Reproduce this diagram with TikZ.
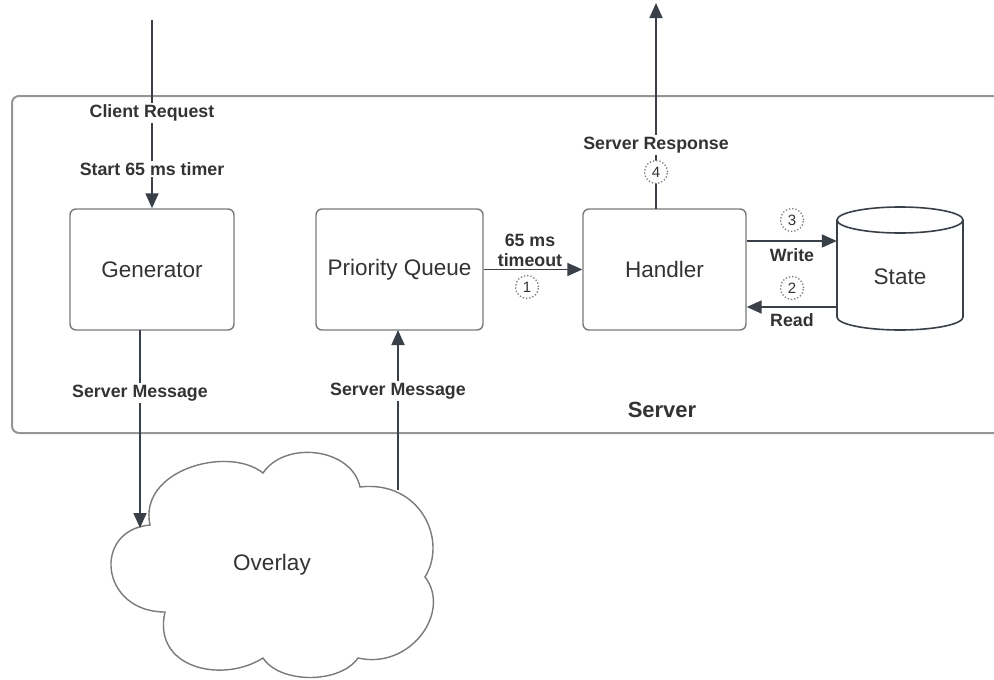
\documentclass[tikz,border=0pt]{standalone}
\usepackage{fontspec}
\setmainfont{Liberation Sans}
\usetikzlibrary{arrows.meta,calc}
\definecolor{txt}{HTML}{333333}
\definecolor{ln}{HTML}{3A4048}
\definecolor{bx}{HTML}{7A7A7A}
\tikzset{
  procbox/.style={draw=bx,line width=1.4pt,rounded corners=6pt,fill=white,text=txt,font=\fontsize{22.5}{26}\selectfont,inner sep=0pt},
  arr/.style={draw=ln,line width=1.8pt,-{Triangle[length=15pt,width=13pt]}},
  lbl/.style={fill=white,text=txt,font=\bfseries\fontsize{17.8}{20}\selectfont,inner sep=1.5pt,align=center},
  numc/.style={circle,draw=bx,dotted,line width=1.3pt,minimum size=23pt,inner sep=0pt,fill=white,text=txt,font=\fontsize{15}{17}\selectfont}
}
\begin{document}
\begin{tikzpicture}[x=1pt,y=-1pt]
\useasboundingbox (0,0) rectangle (994,680);
\clip (0,0) rectangle (994,680);
% server box
\draw[draw=bx!80,line width=2pt,rounded corners=7pt] (12,96) rectangle (1010,433);
\node[text=txt,font=\bfseries\fontsize{22}{24}\selectfont] (serverlbl) at (662,410) {Server};
% boxes
\node[procbox,minimum width=164pt,minimum height=121pt] (gen) at (152,269.5) {Generator};
\node[procbox,minimum width=167pt,minimum height=121pt] (pq) at (399.5,269.5) {Priority Queue};
\node[procbox,minimum width=163pt,minimum height=121pt] (hand) at (664.5,269.5) {Handler};
% state cylinder
\draw[draw=ln,line width=1.6pt,fill=white] (837,220) -- (837,317) arc[start angle=180,end angle=360,x radius=63,y radius=-13] -- (963,220);
\draw[draw=ln,line width=1.6pt,fill=white] (900,220) ellipse[x radius=63,y radius=13];
\node[minimum width=126pt,minimum height=110pt,inner sep=0pt,text=txt,font=\fontsize{22.5}{26}\selectfont] (state) at (900,277) {State};
% cloud
\draw[draw=bx,line width=1.4pt,fill=white]
 (150,525) .. controls (138,470) and (228,445) .. (263,473)
 .. controls (285,440) and (352,448) .. (360,487)
 .. controls (420,480) and (448,540) .. (425,577)
 .. controls (452,612) and (410,670) .. (358,658)
 .. controls (340,684) and (280,684) .. (263,658)
 .. controls (222,684) and (152,668) .. (165,612)
 .. controls (100,612) and (92,530) .. (150,525) -- cycle;
\node[text=txt,font=\fontsize{22.5}{26}\selectfont] (overlay) at (272,565) {Overlay};
% coordinates
\coordinate (ctop) at (152,20);
\coordinate (rtop) at (656,3);
\coordinate (hup) at (656,209);
\coordinate (gdown) at (140,330);
\coordinate (cin) at (140,528);
\coordinate (cout) at (398,490);
\coordinate (pqin) at (398,330);
\coordinate (wy) at (0,241);
\coordinate (ry) at (0,307);
% client request
\draw[arr] (ctop) -- (gen.north);
\node[lbl] (creq) at (152,113) {Client Request};
\node[lbl] (ctimer) at (152,169) {Start 65 ms timer};
% gen -> overlay
\draw[arr] (gdown) -- (cin);
\node[lbl] (sm1) at (140,393) {Server Message};
% overlay -> pq
\draw[arr] (cout) -- (pqin);
\node[lbl] (sm2) at (398,391) {Server Message};
% pq -> handler
\draw[arr] (pq.east) -- (hand.west);
\node[text=txt,font=\bfseries\fontsize{17.8}{20}\selectfont,align=center,inner sep=0pt] (tout) at (530,250) {65 ms\\timeout};
\node[numc] (n1) at (527,287) {1};
% handler -> response
\draw[arr] (hup) -- (rtop);
\node[lbl] (sresp) at (656,145) {Server Response};
\node[numc] (n4) at (656,172) {4};
% write / read
\draw[arr] (hand.east |- wy) -- (state.west |- wy);
\node[text=txt,font=\bfseries\fontsize{17.8}{20}\selectfont] (wr) at (792,255) {Write};
\node[numc] (n3) at (792,220) {3};
\draw[arr] (state.west |- ry) -- (hand.east |- ry);
\node[text=txt,font=\bfseries\fontsize{17.8}{20}\selectfont] (rd) at (792,320) {Read};
\node[numc] (n2) at (792,288) {2};
\end{tikzpicture}
\end{document}
